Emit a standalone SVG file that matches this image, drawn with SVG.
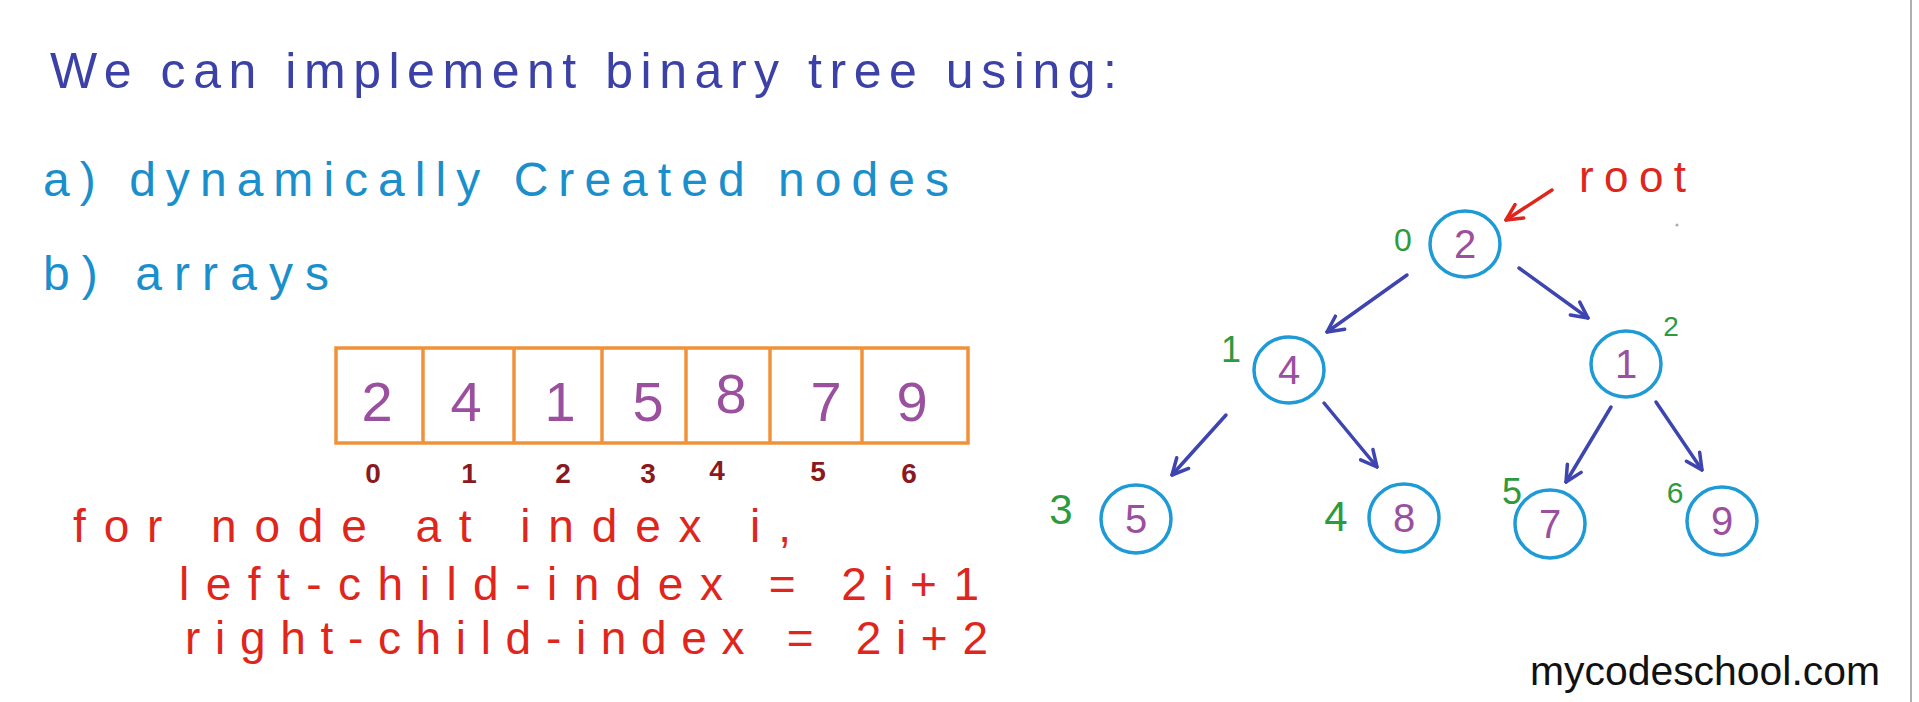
<svg xmlns="http://www.w3.org/2000/svg" width="1919" height="702" viewBox="0 0 1919 702">
<defs>
<style>
text{font-family:"Liberation Sans","DejaVu Sans",sans-serif}
.title{fill:#3b41a6;font-size:50px}
.cyan{fill:#1b8fcb;font-size:48px}
.red{fill:#e0261c;font-size:46px}
.dig{fill:#9a4f9f;font-size:56px;text-anchor:middle}
.idx{fill:#8a1a1e;font-size:28px;font-weight:bold;text-anchor:middle}
.cell{fill:none;stroke:#f0923a;stroke-width:3.5}
.node ellipse{fill:none;stroke:#1e9ad6;stroke-width:3.5}
.node text{fill:#9a4f9f;font-size:40px;text-anchor:middle}
.gi{fill:#2e9a3e;text-anchor:middle}
.edge{stroke:#3e44b0;stroke-width:3.5;fill:none;stroke-linecap:round}
</style>
<marker id="ah" viewBox="0 0 20 20" refX="18" refY="10" markerWidth="20" markerHeight="20" markerUnits="userSpaceOnUse" orient="auto">
<polyline points="2,2 18,10 2,18" fill="none" stroke="#3e44b0" stroke-width="3.5" stroke-linecap="round" stroke-linejoin="round"/>
</marker>
<marker id="ahr" viewBox="0 0 20 20" refX="18" refY="10" markerWidth="20" markerHeight="20" markerUnits="userSpaceOnUse" orient="auto">
<polyline points="2,2 18,10 2,18" fill="none" stroke="#e0261c" stroke-width="3.5" stroke-linecap="round" stroke-linejoin="round"/>
</marker>
</defs>
<rect width="1919" height="702" fill="#ffffff"/>
<line x1="1911" y1="0" x2="1911" y2="702" stroke="#b0b0b0" stroke-width="2"/>
<circle cx="1677" cy="225" r="1.5" fill="#aaaaaa"/>

<g id="text-left">
<text class="title" x="50" y="88" textLength="1067" lengthAdjust="spacing">We can implement binary tree using:</text>
<text class="cyan" x="43" y="196" textLength="906" lengthAdjust="spacing">a) dynamically Created nodes</text>
<text class="cyan" x="43" y="290" textLength="286" lengthAdjust="spacing">b) arrays</text>
<text class="red" x="73" y="542" textLength="718" lengthAdjust="spacing">for node at index i,</text>
<text class="red" x="179" y="600" textLength="800" lengthAdjust="spacing">left-child-index = 2i+1</text>
<text class="red" x="185" y="654" textLength="803" lengthAdjust="spacing">right-child-index = 2i+2</text>
</g>

<g id="array">
<rect class="cell" x="336" y="348" width="632" height="95"/>
<line class="cell" x1="423" y1="348" x2="423" y2="443"/>
<line class="cell" x1="514" y1="348" x2="514" y2="443"/>
<line class="cell" x1="602" y1="348" x2="602" y2="443"/>
<line class="cell" x1="686" y1="348" x2="686" y2="443"/>
<line class="cell" x1="770" y1="348" x2="770" y2="443"/>
<line class="cell" x1="862" y1="348" x2="862" y2="443"/>
<text class="dig" x="377" y="421">2</text>
<text class="dig" x="466" y="421">4</text>
<text class="dig" x="560" y="421">1</text>
<text class="dig" x="648" y="421">5</text>
<text class="dig" x="731" y="413">8</text>
<text class="dig" x="826" y="421">7</text>
<text class="dig" x="912" y="421">9</text>
<text class="idx" x="373" y="483">0</text>
<text class="idx" x="469" y="483">1</text>
<text class="idx" x="563" y="483">2</text>
<text class="idx" x="648" y="483">3</text>
<text class="idx" x="717" y="480">4</text>
<text class="idx" x="818" y="481">5</text>
<text class="idx" x="909" y="483">6</text>
</g>

<g id="connectors">
<line class="edge" x1="1407" y1="275" x2="1327" y2="332" marker-end="url(#ah)"/>
<line class="edge" x1="1519" y1="268" x2="1588" y2="318" marker-end="url(#ah)"/>
<line class="edge" x1="1226" y1="415" x2="1172" y2="475" marker-end="url(#ah)"/>
<line class="edge" x1="1324" y1="403" x2="1377" y2="467" marker-end="url(#ah)"/>
<line class="edge" x1="1611" y1="407" x2="1566" y2="482" marker-end="url(#ah)"/>
<line class="edge" x1="1656" y1="402" x2="1702" y2="470" marker-end="url(#ah)"/>
<line x1="1552" y1="190" x2="1506" y2="220" stroke="#e0261c" stroke-width="3.5" stroke-linecap="round" marker-end="url(#ahr)"/>
</g>

<g id="root-label"><text x="1579" y="192" fill="#e0261c" font-size="44" textLength="107" lengthAdjust="spacing">root</text></g>

<g id="node0" class="node"><ellipse cx="1465" cy="244" rx="35" ry="33"/><text x="1465" y="258">2</text></g>
<g id="node1" class="node"><ellipse cx="1289" cy="370" rx="35" ry="33"/><text x="1289" y="384">4</text></g>
<g id="node2" class="node"><ellipse cx="1626" cy="364" rx="35" ry="33"/><text x="1626" y="378">1</text></g>
<g id="node3" class="node"><ellipse cx="1136" cy="519" rx="35" ry="34"/><text x="1136" y="533">5</text></g>
<g id="node4" class="node"><ellipse cx="1404" cy="518" rx="35" ry="34"/><text x="1404" y="532">8</text></g>
<g id="node5" class="node"><ellipse cx="1550" cy="524" rx="35" ry="34"/><text x="1550" y="538">7</text></g>
<g id="node6" class="node"><ellipse cx="1722" cy="521" rx="35" ry="34"/><text x="1722" y="535">9</text></g>

<g id="tree-indices">
<text class="gi" x="1403" y="251" font-size="32">0</text>
<text class="gi" x="1231" y="362" font-size="36">1</text>
<text class="gi" x="1671" y="336" font-size="28">2</text>
<text class="gi" x="1061" y="524" font-size="42">3</text>
<text class="gi" x="1336" y="531" font-size="42">4</text>
<text class="gi" x="1512" y="504" font-size="36">5</text>
<text class="gi" x="1675" y="503" font-size="30">6</text>
</g>

<g id="brand"><text x="1530" y="685" fill="#111111" font-size="40" textLength="350" lengthAdjust="spacingAndGlyphs">mycodeschool.com</text></g>
</svg>
